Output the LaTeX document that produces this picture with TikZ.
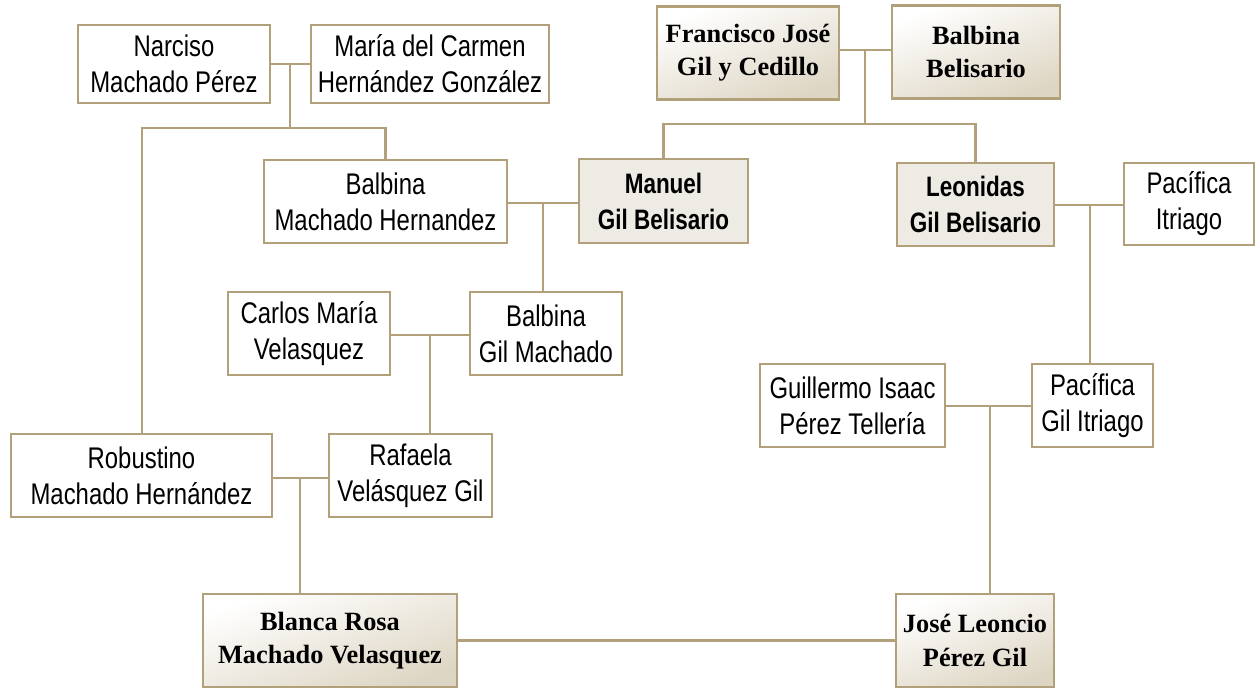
\documentclass[tikz,border=0pt]{standalone}
\usepackage{fontspec}
\setmainfont{Liberation Serif}
\newfontfamily\narrowsans[FakeStretch=0.8]{Liberation Sans}
\usetikzlibrary{calc}

\definecolor{tanline}{RGB}{178,160,122}
\definecolor{beige}{RGB}{222,214,196}
\definecolor{greyfill}{RGB}{238,235,228}

\begin{document}
\begin{tikzpicture}[
  x=0.02cm, y=-0.02cm,
  person/.style={draw=tanline, line width=1.3pt, fill=white, align=center,
    inner sep=2pt, font=\narrowsans\fontsize{17}{20.5}\selectfont,
    minimum height=1.66cm},
  elder/.style={person, shading=axis, top color=white, bottom color=beige,
    shading angle=20, font=\bfseries\fontsize{15}{19}\selectfont,
    minimum height=1.86cm},
  heir/.style={person, fill=greyfill, font=\narrowsans\bfseries\fontsize{16}{20.5}\selectfont},
  link/.style={draw=tanline, line width=1.3pt}
]
  \useasboundingbox (0,0) rectangle (1255,689);

  % top left couple
  \node[person, minimum width=3.84cm, minimum height=1.56cm] (narciso) at (174,64) {Narciso\\Machado Pérez};
  \node[person, minimum width=4.76cm, minimum height=1.56cm] (maria) at (430,64) {María del Carmen\\Hernández González};

  % top right couple
  \node[elder, minimum width=3.64cm] (francisco) at (748,53) {Francisco José\\Gil y Cedillo};
  \node[elder, minimum width=3.36cm] (balbinaB) at (976,52) {Balbina\\Belisario};

  % second row
  \node[person, minimum width=4.86cm] (balbinaMH) at (385.5,201.5) {Balbina\\Machado Hernandez};
  \node[heir, minimum width=3.38cm, minimum height=1.68cm] (manuel) at (663.5,201) {Manuel\\Gil Belisario};
  \node[heir, minimum width=3.14cm] (leonidas) at (975.5,204.5) {Leonidas\\Gil Belisario};
  \node[person, minimum width=2.6cm, minimum height=1.64cm] (pacificaI) at (1189,204) {Pacífica\\Itriago};

  % third row
  \node[person, minimum width=3.24cm] (carlos) at (309,333.5) {Carlos María\\Velasquez};
  \node[person, minimum width=3.04cm] (balbinaGM) at (546,333.5) {Balbina\\Gil Machado};
  \node[person, minimum width=3.7cm] (guillermo) at (852.5,405.5) {Guillermo Isaac\\Pérez Tellería};
  \node[person, minimum width=2.42cm] (pacificaGI) at (1092.5,405.5) {Pacífica\\Gil Itriago};

  % fourth row
  \node[person, minimum width=5.22cm] (robustino) at (141.5,475.5) {Robustino\\Machado Hernández};
  \node[person, minimum width=3.26cm] (rafaela) at (410.5,475.5) {Rafaela\\Velásquez Gil};

  % bottom couple
  \node[elder, minimum width=5.08cm] (blanca) at (330,640.5) {Blanca Rosa\\Machado Velasquez};
  \node[elder, minimum width=3.16cm] (jose) at (975,640.5) {José Leoncio\\Pérez Gil};

  % junctions
  \coordinate (jNM) at (290,64);
  \coordinate (busNM) at (290,128);
  \coordinate (jFB) at (865,50);
  \coordinate (busFB) at (865,124);
  \coordinate (jBM) at (543,203);
  \coordinate (jLP) at (1090,205);
  \coordinate (jCB) at (430,335);
  \coordinate (jGP) at (990,406);
  \coordinate (jRR) at (300,478);

  % Machado Pérez family
  \draw[link] (narciso.east |- jNM) -- (maria.west |- jNM);
  \draw[link] (jNM) -- (busNM);
  \draw[link] (robustino.north -| 142,0) |- (busNM) -| (balbinaMH.north);

  % Gil y Cedillo family
  \draw[link] (francisco.east |- jFB) -- (balbinaB.west |- jFB);
  \draw[link] (jFB) -- (busFB);
  \draw[link] (manuel.north) |- (busFB) -| (leonidas.north);

  % children lines
  \draw[link] (balbinaMH.east |- jBM) -- (manuel.west |- jBM);
  \draw[link] (jBM) -- (jBM |- balbinaGM.north);
  \draw[link] (leonidas.east |- jLP) -- (pacificaI.west |- jLP);
  \draw[link] (jLP) -- (jLP |- pacificaGI.north);
  \draw[link] (carlos.east |- jCB) -- (balbinaGM.west |- jCB);
  \draw[link] (jCB) -- (jCB |- rafaela.north);
  \draw[link] (guillermo.east |- jGP) -- (pacificaGI.west |- jGP);
  \draw[link] (jGP) -- (jGP |- jose.north);
  \draw[link] (robustino.east |- jRR) -- (rafaela.west |- jRR);
  \draw[link] (jRR) -- (jRR |- blanca.north);

  % marriage
  \draw[link] (blanca) -- (jose);
\end{tikzpicture}
\end{document}
